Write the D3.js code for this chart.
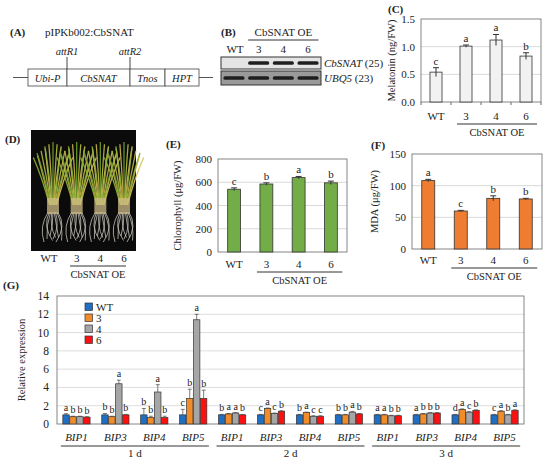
<!DOCTYPE html>
<html>
<head>
<meta charset="utf-8">
<script src="https://cdn.jsdelivr.net/npm/d3@7"></script>
<style>
  body { margin: 0; background: #fff; }
  text { font-family: "Liberation Serif", "DejaVu Serif", serif; fill: #222; }
</style>
</head>
<body>
<script>
// ---- data ----
const lines = ["WT", "3", "4", "6"];

const constructParts = ["Ubi-P", "CbSNAT", "Tnos", "HPT"];
const constructLengths = [39, 63, 35, 34];
const constructSites = ["attR1", "attR2"];

const gelGenes = ["CbSNAT", "UBQ5"];
const gelCycles = ["(25)", "(23)"];
const gelBands = [[0, 1, 1, 1], [1, 1, 1, 1]];

const melatonin = [0.54, 1.01, 1.12, 0.83];
const melatoninErr = [0.08, 0.02, 0.1, 0.06];
const melatoninLetters = ["c", "a", "a", "b"];

const chlorophyll = [540, 585, 640, 595];
const chlorophyllErr = [12, 10, 10, 15];
const chlorophyllLetters = ["c", "b", "a", "b"];

const mda = [108, 60, 80, 79];
const mdaErr = [2, 1, 4, 1];
const mdaLetters = ["a", "c", "b", "b"];

const bipGenes = ["BIP1", "BIP3", "BIP4", "BIP5"];
const days = ["1 d", "2 d", "3 d"];
// one row per day x gene, columns WT, 3, 4, 6
const expression = [
  [1.0, 0.8, 0.8, 0.75], [1.0, 0.8, 4.4, 1.0], [1.0, 0.7, 3.5, 0.7], [1.0, 2.8, 11.4, 2.8],
  [1.0, 1.1, 1.2, 1.0], [1.0, 1.7, 1.15, 1.4], [1.0, 1.25, 0.85, 0.85], [1.0, 1.0, 1.3, 1.1],
  [1.0, 1.0, 0.9, 0.9], [1.0, 1.1, 1.2, 1.2], [1.0, 1.6, 1.3, 1.5], [1.0, 1.4, 1.0, 1.5]
];
const expressionErr = [
  [0.12, 0.05, 0.05, 0.05], [0.15, 0.05, 0.4, 0.05], [0.7, 0.15, 0.8, 0.15], [0.6, 1.0, 0.6, 0.9],
  [0.05, 0.05, 0.05, 0.05], [0.05, 0.05, 0.05, 0.05], [0.05, 0.05, 0.05, 0.05], [0.05, 0.05, 0.08, 0.05],
  [0.05, 0.05, 0.05, 0.05], [0.05, 0.05, 0.05, 0.05], [0.05, 0.05, 0.05, 0.05], [0.05, 0.05, 0.05, 0.05]
];
const expressionLetters = [
  ["a", "b", "b", "b"], ["b", "b", "a", "b"], ["b", "b", "a", "b"], ["c", "b", "a", "b"],
  ["b", "a", "a", "b"], ["c", "a", "c", "b"], ["b", "a", "c", "c"], ["b", "b", "a", "b"],
  ["a", "a", "b", "b"], ["a", "b", "b", "b"], ["d", "a", "c", "b"], ["c", "a", "b", "a"]
];
const expressionColors = ["#1f6fc4", "#f28c28", "#a6a6a6", "#ff1010"];
const expressionTicks = d3.range(0, 15, 2);

const svg = d3.select("body").append("svg")
    .attr("width", 550)
    .attr("height", 460)
    .attr("viewBox", [0, 0, 550, 460]);

function tag(label, x, y) {
  svg.append("text").attr("x", x).attr("y", y)
     .attr("font-size", 11).attr("font-weight", "bold").text(label);
}

// ---- (A) construct ----
tag("(A)", 10, 36);
svg.append("text").attr("x", 45).attr("y", 36).attr("font-size", 11).text("pIPKb002:CbSNAT");
{
  const cx = d3.scaleLinear([0, d3.sum(constructLengths)], [28, 199]);
  const starts = d3.cumsum([0, ...constructLengths]);
  const g = svg.append("g");
  g.append("line").attr("x1", 13).attr("x2", 213).attr("y1", 77.5).attr("y2", 77.5)
   .attr("stroke", "#555");
  g.selectAll("rect").data(constructParts).join("rect")
    .attr("x", (d, i) => cx(starts[i]))
    .attr("width", (d, i) => cx(starts[i + 1]) - cx(starts[i]))
    .attr("y", 69).attr("height", 17)
    .attr("fill", "#fff").attr("stroke", "#444").attr("stroke-width", 0.8);
  g.selectAll("text.part").data(constructParts).join("text")
    .attr("class", "part")
    .attr("x", (d, i) => (cx(starts[i]) + cx(starts[i + 1])) / 2)
    .attr("y", 81.5).attr("text-anchor", "middle")
    .attr("font-size", 10.5).attr("font-style", "italic").text(d => d);
  constructSites.forEach((s, i) => {
    const x = cx(starts[i + 1]);
    g.append("line").attr("x1", x).attr("x2", x).attr("y1", 57).attr("y2", 69).attr("stroke", "#444");
    g.append("text").attr("x", x).attr("y", 55).attr("text-anchor", "middle")
     .attr("font-size", 10.5).attr("font-style", "italic").text(s);
  });
}

// ---- (B) gel ----
tag("(B)", 221, 36);
{
  const lx = d3.scaleBand(lines, [221, 321]).paddingInner(0.15).paddingOuter(0.1);
  const rows = [[57, 69], [71, 85]];
  const g = svg.append("g");
  svg.selectAll("text.lane").data(lines).join("text").attr("class", "lane")
    .attr("x", d => lx(d) + lx.bandwidth() / 2 + (d === "WT" ? 1 : 0)).attr("y", 53)
    .attr("text-anchor", "middle").attr("font-size", 11).text(d => d);
  svg.append("line").attr("x1", lx("3")).attr("x2", lx("6") + lx.bandwidth())
     .attr("y1", 40).attr("y2", 40).attr("stroke", "#333");
  svg.append("text").attr("x", (lx("3") + lx("6") + lx.bandwidth()) / 2).attr("y", 36)
     .attr("text-anchor", "middle").attr("font-size", 11).text("CbSNAT OE");
  gelGenes.forEach((gene, r) => {
    g.append("rect").attr("x", 221).attr("width", 100)
     .attr("y", rows[r][0]).attr("height", rows[r][1] - rows[r][0])
     .attr("fill", r === 0 ? "#e4e4e4" : "#9a9a9a").attr("stroke", "#333");
    g.selectAll(null).data(lines.filter((d, i) => gelBands[r][i])).join("rect")
      .attr("x", d => lx(d)).attr("width", lx.bandwidth())
      .attr("y", (rows[r][0] + rows[r][1]) / 2 - 1.8).attr("height", 3.6)
      .attr("rx", 1.5).attr("fill", "#1e1e1e");
    const t = svg.append("text").attr("x", 324).attr("y", (rows[r][0] + rows[r][1]) / 2 + 4)
      .attr("font-size", 11);
    t.append("tspan").attr("font-style", "italic").text(gene);
    t.append("tspan").text(" " + gelCycles[r]);
  });
}

// ---- simple bar panel (C, E, F) ----
function barPanel({left, right, top, bottom, max, step, fmt, values, errs, letters, fill,
                   title, titleX, labelY, catTicks}) {
  const x = d3.scaleBand(lines, [left, right]).paddingInner(0.6).paddingOuter(0.3);
  const y = d3.scaleLinear([0, max], [bottom, top]);
  const ticks = d3.range(0, max + step / 2, step);
  const g = svg.append("g");
  g.selectAll("line.grid").data(ticks.slice(1, -1)).join("line").attr("class", "grid")
    .attr("x1", left).attr("x2", right).attr("y1", d => y(d)).attr("y2", d => y(d))
    .attr("stroke", "#d9d9d9");
  g.append("rect").attr("x", left).attr("y", top).attr("width", right - left)
    .attr("height", bottom - top).attr("fill", "none").attr("stroke", "#666").attr("stroke-width", 0.8);
  g.selectAll("text.tick").data(ticks).join("text").attr("class", "tick")
    .attr("x", left - 6).attr("y", d => y(d) + 4).attr("text-anchor", "end")
    .attr("font-size", 11).text(fmt);
  if (catTicks) {
    g.selectAll("line.ct").data(d3.range(5)).join("line").attr("class", "ct")
      .attr("x1", i => left + i * (right - left) / 4).attr("x2", i => left + i * (right - left) / 4)
      .attr("y1", bottom).attr("y2", bottom + 3).attr("stroke", "#666");
  }
  g.selectAll("rect.bar").data(lines).join("rect").attr("class", "bar")
    .attr("x", d => x(d)).attr("width", x.bandwidth())
    .attr("y", (d, i) => y(values[i])).attr("height", (d, i) => y(0) - y(values[i]))
    .attr("fill", fill).attr("stroke", "#333").attr("stroke-width", 0.8);
  const eb = g.selectAll("g.eb").data(lines).join("g").attr("class", "eb")
    .attr("transform", d => `translate(${x(d) + x.bandwidth() / 2},0)`);
  eb.append("line").attr("y1", (d, i) => y(values[i] - errs[i])).attr("y2", (d, i) => y(values[i] + errs[i]))
    .attr("stroke", "#333");
  eb.append("line").attr("x1", -3).attr("x2", 3)
    .attr("y1", (d, i) => y(values[i] + errs[i])).attr("y2", (d, i) => y(values[i] + errs[i]))
    .attr("stroke", "#333");
  eb.append("text").attr("text-anchor", "middle").attr("font-size", 11)
    .attr("y", (d, i) => y(values[i] + errs[i]) - 3).text((d, i) => letters[i]);
  g.selectAll("text.cat").data(lines).join("text").attr("class", "cat")
    .attr("x", d => x(d) + x.bandwidth() / 2).attr("y", labelY)
    .attr("text-anchor", "middle").attr("font-size", 11).text(d => d);
  const ux0 = x("3") - 3, ux1 = x("6") + x.bandwidth() + 5;
  g.append("line").attr("x1", ux0).attr("x2", ux1).attr("y1", labelY + 4).attr("y2", labelY + 4)
    .attr("stroke", "#333");
  g.append("text").attr("x", (ux0 + ux1) / 2).attr("y", labelY + 16).attr("text-anchor", "middle")
    .attr("font-size", 10.5).text("CbSNAT OE");
  g.append("text").attr("transform", `translate(${titleX},${(top + bottom) / 2}) rotate(-90)`)
    .attr("text-anchor", "middle").attr("font-size", 10.5).text(title);
}

tag("(C)", 388, 13);
barPanel({left: 421, right: 541, top: 19, bottom: 102, max: 1.5, step: 0.5, fmt: d3.format(".1f"),
  values: melatonin, errs: melatoninErr, letters: melatoninLetters, fill: "#f2f2f2",
  title: "Melatonin  (ng/FW)", titleX: 395, labelY: 120, catTicks: true});

tag("(E)", 166, 148);
barPanel({left: 218, right: 347, top: 159, bottom: 252, max: 800, step: 200, fmt: d3.format("d"),
  values: chlorophyll, errs: chlorophyllErr, letters: chlorophyllLetters, fill: "#72ad47",
  title: "Chlorophyll  (μg/FW)", titleX: 181, labelY: 268, catTicks: false});

tag("(F)", 371, 149);
barPanel({left: 412, right: 542, top: 154, bottom: 249, max: 150, step: 50, fmt: d3.format("d"),
  values: mda, errs: mdaErr, letters: mdaLetters, fill: "#ee7d31",
  title: "MDA (μg/FW)", titleX: 378, labelY: 264, catTicks: false});

// ---- (D) photo of seedlings ----
tag("(D)", 5, 143);
{
  const px = d3.scalePoint(lines, [53, 124]);
  svg.append("rect").attr("x", 31).attr("y", 130).attr("width", 105).attr("height", 121).attr("fill", "#0b0b0b");
  const g = svg.append("g");
  const fan = d3.range(-7, 8);
  const leafColors = ["#8fb236", "#c9b64a", "#6f9f2c", "#b5bb3c", "#d6c25a"];
  lines.forEach(l => {
    const cx = px(l);
    // roots
    g.selectAll(null).data(d3.range(-4, 5)).join("path")
      .attr("d", k => `M${cx + k * 1.2},212 Q${cx + k * 3.5},226 ${cx + k * 1.5 + (k % 2 ? 4 : -3)},${236 + Math.abs(k) * 1.5}`)
      .attr("fill", "none").attr("stroke", "#cfcac0").attr("stroke-width", 0.9).attr("opacity", 0.85);
    // leaves
    g.selectAll(null).data(fan).join("path")
      .attr("d", k => `M${cx + k * 0.5},${205} Q${cx + k * 1.5},${178} ${cx + k * 2.6 + (k % 3) * 1.5},${142 + Math.abs(k) * 2.2}`)
      .attr("fill", "none").attr("stroke", (k, i) => leafColors[i % leafColors.length])
      .attr("stroke-width", 1.3).attr("opacity", 0.9);
    // stem bases
    g.append("rect").attr("x", cx - 6).attr("y", 198).attr("width", 12).attr("height", 16)
      .attr("fill", "#cdbb86").attr("opacity", 0.75);
  });
  svg.selectAll("text.dl").data(lines).join("text").attr("class", "dl")
    .attr("x", d => px(d) - (d === "WT" ? 4 : 0)).attr("y", 262).attr("text-anchor", "middle")
    .attr("font-size", 11).text(d => d);
  svg.append("line").attr("x1", 70).attr("x2", 126).attr("y1", 266).attr("y2", 266).attr("stroke", "#333");
  svg.append("text").attr("x", 98).attr("y", 278).attr("text-anchor", "middle")
    .attr("font-size", 10.5).text("CbSNAT OE");
}

// ---- (G) BIP expression ----
tag("(G)", 3, 289);
{
  const left = 57, right = 524, top = 296, bottom = 424;
  const groups = d3.range(expression.length);
  const gx = d3.scaleBand(groups, [left, right]).paddingInner(0.3).paddingOuter(0.15);
  const sx = d3.scaleBand(lines, [0, gx.bandwidth()]).paddingInner(0.08);
  const y = d3.scaleLinear([0, 14], [bottom, top]);
  const g = svg.append("g");
  g.selectAll("line.grid").data(expressionTicks.slice(1, -1)).join("line").attr("class", "grid")
    .attr("x1", left).attr("x2", right).attr("y1", d => y(d)).attr("y2", d => y(d))
    .attr("stroke", "#dddddd");
  g.append("rect").attr("x", left).attr("y", top).attr("width", right - left)
    .attr("height", bottom - top).attr("fill", "none").attr("stroke", "#666").attr("stroke-width", 0.8);
  g.selectAll("text.tick").data(expressionTicks).join("text").attr("class", "tick")
    .attr("x", left - 8).attr("y", d => y(d) + 4).attr("text-anchor", "end")
    .attr("font-size", 11.5).text(d => d);
  g.append("text").attr("transform", `translate(25,${(top + bottom) / 2}) rotate(-90)`)
    .attr("text-anchor", "middle").attr("font-size", 10.5).text("Relative expression");

  const grp = g.selectAll("g.grp").data(groups).join("g").attr("class", "grp")
    .attr("transform", i => `translate(${gx(i)},0)`);
  grp.each(function(gi) {
    const gg = d3.select(this);
    gg.selectAll("rect").data(lines).join("rect")
      .attr("x", d => sx(d)).attr("width", sx.bandwidth())
      .attr("y", (d, j) => y(expression[gi][j]))
      .attr("height", (d, j) => y(0) - y(expression[gi][j]))
      .attr("fill", (d, j) => expressionColors[j]).attr("stroke", "#333").attr("stroke-width", 0.7);
    const eb = gg.selectAll("g.eb").data(lines).join("g").attr("class", "eb")
      .attr("transform", d => `translate(${sx(d) + sx.bandwidth() / 2},0)`);
    eb.append("line")
      .attr("y1", (d, j) => y(expression[gi][j])).attr("y2", (d, j) => y(expression[gi][j] + expressionErr[gi][j]))
      .attr("stroke", "#444").attr("stroke-width", 0.7);
    eb.append("line").attr("x1", -2).attr("x2", 2)
      .attr("y1", (d, j) => y(expression[gi][j] + expressionErr[gi][j]))
      .attr("y2", (d, j) => y(expression[gi][j] + expressionErr[gi][j]))
      .attr("stroke", "#444").attr("stroke-width", 0.7);
    eb.append("text").attr("text-anchor", "middle").attr("font-size", 10)
      .attr("y", (d, j) => y(expression[gi][j] + expressionErr[gi][j]) - 3)
      .text((d, j) => expressionLetters[gi][j]);
  });
  g.selectAll("text.gene").data(groups).join("text").attr("class", "gene")
    .attr("x", i => gx(i) + gx.bandwidth() / 2).attr("y", 441)
    .attr("text-anchor", "middle").attr("font-size", 11).attr("font-style", "italic")
    .text(i => bipGenes[i % bipGenes.length]);
  days.forEach((d, di) => {
    const x0 = gx(di * 4) - 2, x1 = gx(di * 4 + 3) + gx.bandwidth() + 2;
    g.append("line").attr("x1", x0).attr("x2", x1).attr("y1", 446).attr("y2", 446).attr("stroke", "#333");
    g.append("text").attr("x", (x0 + x1) / 2).attr("y", 457).attr("text-anchor", "middle")
      .attr("font-size", 11).text(d);
  });
  const leg = g.selectAll("g.leg").data(lines).join("g").attr("class", "leg")
    .attr("transform", (d, i) => `translate(85,${303 + i * 11})`);
  leg.append("rect").attr("width", 7.5).attr("height", 7.5)
    .attr("fill", (d, i) => expressionColors[i]).attr("stroke", "#333").attr("stroke-width", 0.7);
  leg.append("text").attr("x", 11).attr("y", 7.5).attr("font-size", 11).text(d => d);
}
</script>
</body>
</html>
